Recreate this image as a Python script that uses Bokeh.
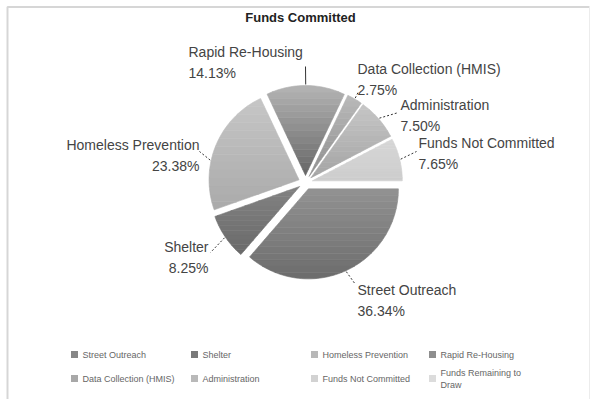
import math
from bokeh.plotting import figure
from bokeh.models import Range1d
from bokeh.core.properties import value
from bokeh.embed import file_html
from bokeh.resources import INLINE

title = "Funds Committed"
categories = ["Street Outreach", "Shelter", "Homeless Prevention", "Rapid Re-Housing",
              "Data Collection (HMIS)", "Administration", "Funds Not Committed",
              "Funds Remaining to Draw"]
percents = [36.34, 8.25, 23.38, 14.13, 2.75, 7.50, 7.65, 0.0]
colors = ["#878787", "#7a7a7a", "#b8b8b8", "#8e8e8e", "#a8a8a8", "#b9b9b9", "#d2d2d2", "#dcdcdc"]
# gradient (top colour, bottom colour) of each slice
top_colors = ["#929292", "#828282", "#c6c6c6", "#b4b4b4", "#bababa", "#c6c6c6", "#d6d6d6", "#dddddd"]
bottom_colors = ["#6c6c6c", "#6a6a6a", "#aaaaaa", "#666666", "#8e8e8e", "#a4a4a4", "#cecece", "#dddddd"]
legend_labels = ["Street Outreach", "Shelter", "Homeless Prevention", "Rapid Re-Housing",
                 "Data Collection (HMIS)", "Administration", "Funds Not Committed",
                 "Funds Remaining to\nDraw"]

# layout (picture pixel coordinates)
label_pos = {  # x, y of first line centre, align
    "Street Outreach": (357, 290, "left"),
    "Shelter": (208, 247, "right"),
    "Homeless Prevention": (199, 145, "right"),
    "Rapid Re-Housing": (188, 52, "left"),
    "Data Collection (HMIS)": (357, 69, "left"),
    "Administration": (400, 105, "left"),
    "Funds Not Committed": (418, 143, "left"),
}
leader_end = {
    "Street Outreach": (355, 284),
    "Shelter": (210, 252),
    "Homeless Prevention": (199, 151),
    "Rapid Re-Housing": (305, 66),
    "Data Collection (HMIS)": (358, 91),
    "Administration": (398, 112),
    "Funds Not Committed": (416, 151),
}
# angular shift (fraction of slice) where the leader line touches the slice
leader_shift = {"Homeless Prevention": -0.12}

W, H = 590, 399


def P(X, Y):
    return X, H - Y


def hex2rgb(h):
    return tuple(int(h[i:i + 2], 16) for i in (1, 3, 5))


def mix(c0, c1, t):
    a, b = hex2rgb(c0), hex2rgb(c1)
    return "#%02x%02x%02x" % tuple(int(round(a[i] + (b[i] - a[i]) * t)) for i in range(3))


def clip(poly, y0, y1):
    def clip_half(pts, keep, yc):
        out = []
        n = len(pts)
        for i in range(n):
            (xa, ya), (xb, yb) = pts[i], pts[(i + 1) % n]
            ina, inb = keep(ya), keep(yb)
            if ina:
                out.append((xa, ya))
            if ina != inb:
                t = (yc - ya) / (yb - ya)
                out.append((xa + t * (xb - xa), yc))
        return out
    pts = clip_half(poly, lambda y: y >= y0, y0)
    if not pts:
        return pts
    return clip_half(pts, lambda y: y <= y1, y1)


p = figure(width=W, height=H, x_range=Range1d(0, W), y_range=Range1d(0, H),
           output_backend="svg", toolbar_location=None, min_border=0)
p.axis.visible = False
p.grid.visible = False
p.outline_line_color = None
p.background_fill_color = "white"
p.border_fill_color = "white"

# frame
fx, fy = P(7, 6.5)
p.line([fx, fx, W - 1], [0, fy, fy], line_color="#d6d6d6", line_width=2)
p.line([W - 1, W - 1], [0, fy], line_color="#ececec", line_width=1)

# title
tx, ty = P(300, 17)
p.text([tx], [ty], text=[title], text_font=value("Liberation Sans"), text_font_style="bold",
       text_font_size="13px", text_align="center", text_baseline="middle", text_color="#222222")

# pie
cx, cy = P(305, 182)
R = 90
d = 7
NB = 14
cum = 0.0
for cat, pct, c_top, c_bot in zip(categories, percents, top_colors, bottom_colors):
    if pct <= 0:
        continue
    a0 = -2 * math.pi * cum / 100.0
    a1 = -2 * math.pi * (cum + pct) / 100.0
    mid = (a0 + a1) / 2
    ox, oy = cx + d * math.cos(mid), cy + d * math.sin(mid)
    n = max(8, int(abs(a1 - a0) / 0.03))
    poly = [(ox, oy)] + [(ox + R * math.cos(a0 + (a1 - a0) * k / n),
                          oy + R * math.sin(a0 + (a1 - a0) * k / n)) for k in range(n + 1)]
    ys = [q[1] for q in poly]
    ymin, ymax = min(ys), max(ys)
    xs_list, ys_list, cols = [], [], []
    for b in range(NB):
        y0 = ymin + (ymax - ymin) * b / NB
        y1 = ymin + (ymax - ymin) * (b + 1) / NB
        part = clip(poly, y0, y1)
        if len(part) < 3:
            continue
        xs_list.append([q[0] for q in part])
        ys_list.append([q[1] for q in part])
        cols.append(mix(c_bot, c_top, (b + 0.5) / NB))
    p.patches(xs_list, ys_list, fill_color=cols, line_color=cols, line_width=0.6)
    cum += pct
    # label
    lx, ly, al = label_pos[cat]
    X, Y = P(lx, ly - 8.5)
    p.text([X], [Y], text=[f"{cat}\n{pct:.2f}%"], text_font=value("Liberation Sans"),
           text_font_size="14px", text_align=al, text_baseline="top", text_color="#444444",
           text_line_height=1.3)
    la = mid + (a1 - a0) * leader_shift.get(cat, 0.0)
    ex, ey = ox + (R + 1) * math.cos(la), oy + (R + 1) * math.sin(la)
    lx2, ly2 = P(*leader_end[cat])
    dash = "solid" if cat == "Rapid Re-Housing" else "2 2"
    p.line([ex, lx2], [ey, ly2], line_color="#333333", line_width=1, line_dash=dash)

# legend
col_x = [70, 190, 310, 428]
row_y = [354, 378]
for i, (lab, col) in enumerate(zip(legend_labels, colors)):
    X, Y = P(col_x[i % 4], row_y[i // 4])
    p.rect([X + 4], [Y], width=7, height=7, fill_color=col, line_color=None)
    p.text([X + 12], [Y], text=[lab], text_font=value("Liberation Sans"), text_font_size="9px",
           text_align="left", text_baseline="middle", text_color="#666666", text_line_height=1.2)

open("out.html", "w").write(file_html(p, INLINE))
